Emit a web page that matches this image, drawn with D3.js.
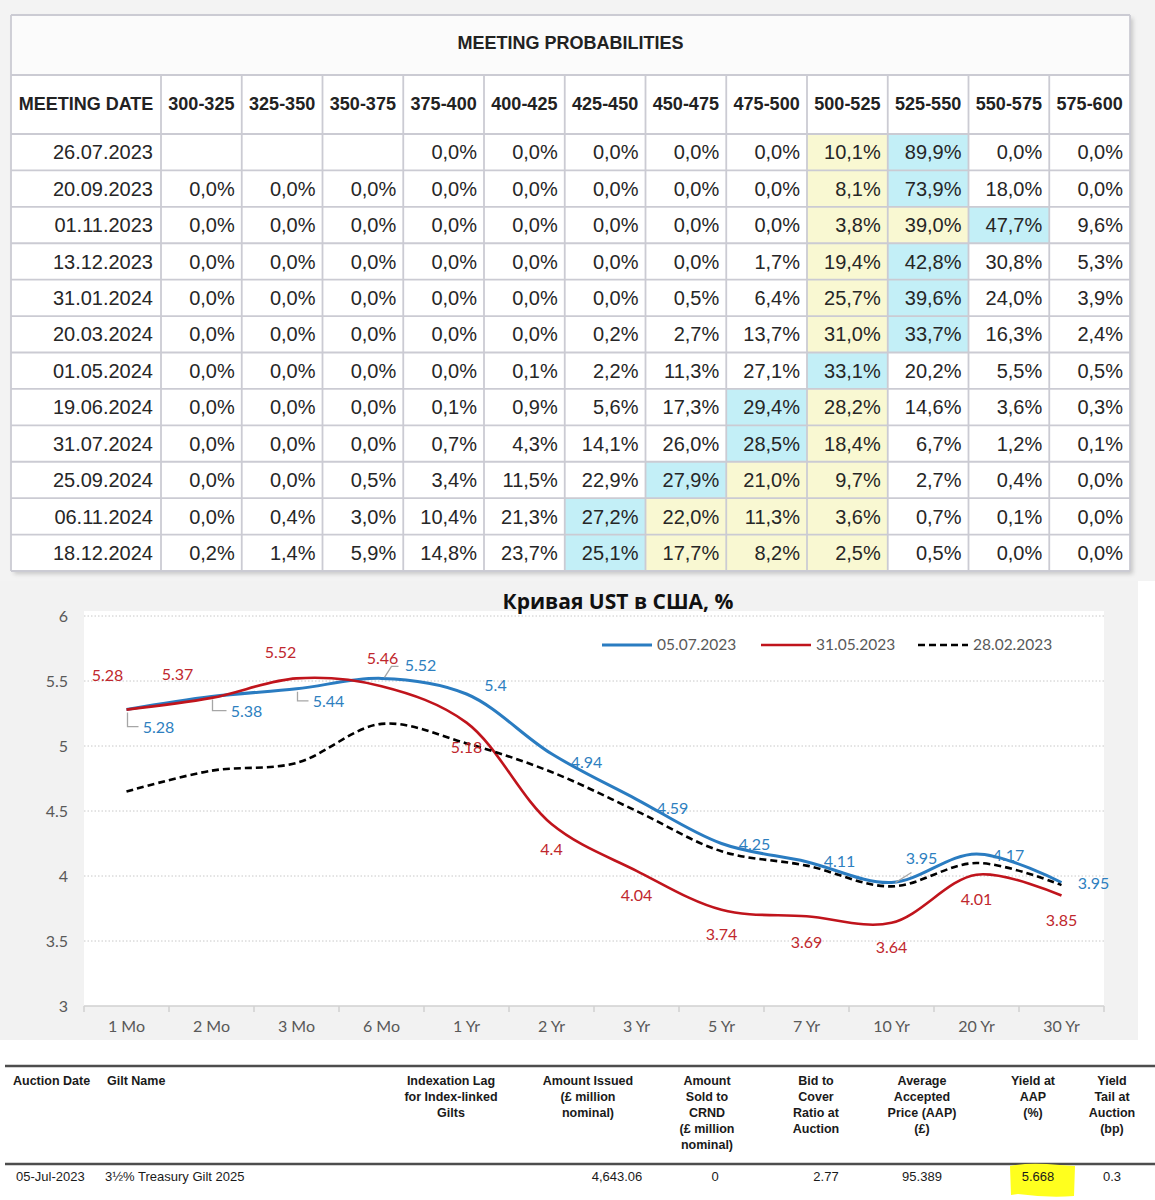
<!DOCTYPE html>
<html><head><meta charset="utf-8">
<script src="https://cdn.jsdelivr.net/npm/d3@7/dist/d3.min.js"></script>
<style>body{margin:0;background:#fff}svg{display:block}</style>
</head><body><svg id="c" width="1155" height="1200"></svg>
<script>
// ---------------- DATA ----------------
const tableTitle = "MEETING PROBABILITIES";
const dateHeader = "MEETING DATE";
const bins = ["300-325","325-350","350-375","375-400","400-425","425-450","450-475","475-500","500-525","525-550","550-575","575-600"];
const currentBin = "500-525";
const meetingDates = ["26.07.2023","20.09.2023","01.11.2023","13.12.2023","31.01.2024","20.03.2024","01.05.2024","19.06.2024","31.07.2024","25.09.2024","06.11.2024","18.12.2024"];
const probs = [
  [null,null,null,0.0,0.0,0.0,0.0,0.0,10.1,89.9,0.0,0.0],
  [0.0,0.0,0.0,0.0,0.0,0.0,0.0,0.0,8.1,73.9,18.0,0.0],
  [0.0,0.0,0.0,0.0,0.0,0.0,0.0,0.0,3.8,39.0,47.7,9.6],
  [0.0,0.0,0.0,0.0,0.0,0.0,0.0,1.7,19.4,42.8,30.8,5.3],
  [0.0,0.0,0.0,0.0,0.0,0.0,0.5,6.4,25.7,39.6,24.0,3.9],
  [0.0,0.0,0.0,0.0,0.0,0.2,2.7,13.7,31.0,33.7,16.3,2.4],
  [0.0,0.0,0.0,0.0,0.1,2.2,11.3,27.1,33.1,20.2,5.5,0.5],
  [0.0,0.0,0.0,0.1,0.9,5.6,17.3,29.4,28.2,14.6,3.6,0.3],
  [0.0,0.0,0.0,0.7,4.3,14.1,26.0,28.5,18.4,6.7,1.2,0.1],
  [0.0,0.0,0.5,3.4,11.5,22.9,27.9,21.0,9.7,2.7,0.4,0.0],
  [0.0,0.4,3.0,10.4,21.3,27.2,22.0,11.3,3.6,0.7,0.1,0.0],
  [0.2,1.4,5.9,14.8,23.7,25.1,17.7,8.2,2.5,0.5,0.0,0.0]
];

const chartTitle = "Кривая UST в США, %";
const tenors = ["1 Mo","2 Mo","3 Mo","6 Mo","1 Yr","2 Yr","3 Yr","5 Yr","7 Yr","10 Yr","20 Yr","30 Yr"];
const seriesNames = ["05.07.2023","31.05.2023","28.02.2023"];
const ust20230705 = [5.28,5.38,5.44,5.52,5.40,4.94,4.59,4.25,4.11,3.95,4.17,3.95];
const ust20230531 = [5.28,5.37,5.52,5.46,5.18,4.40,4.04,3.74,3.69,3.64,4.01,3.85];
const ust20230228 = [4.65,4.81,4.87,5.17,5.02,4.80,4.50,4.19,4.08,3.92,4.10,3.93];
const yTicks = [3,3.5,4,4.5,5,5.5,6];

const auctionHeaders = [
  ["Auction Date"],["Gilt Name"],["Indexation Lag","for Index-linked","Gilts"],
  ["Amount Issued","(£ million","nominal)"],["Amount","Sold to","CRND","(£ million","nominal)"],
  ["Bid to","Cover","Ratio at","Auction"],["Average","Accepted","Price (AAP)","(£)"],
  ["Yield at","AAP","(%)"],["Yield","Tail at","Auction","(bp)"]
];
const auctionRow = ["05-Jul-2023","3½% Treasury Gilt 2025","","4,643.06","0","2.77","95.389","5.668","0.3"];
const highlightedColumn = 7;

// ---------------- LAYOUT / STYLE ----------------
const svg = d3.select("#c");
const F_ARIAL = "'Liberation Sans', Arial, sans-serif";
const F_CAL = "Lato, 'Open Sans', sans-serif";
const F_TITLE = "'Open Sans', 'Noto Sans', sans-serif";

// backgrounds
svg.append("rect").attr("x",0).attr("y",0).attr("width",1155).attr("height",581).attr("fill","#f3f3f3");
svg.append("rect").attr("x",0).attr("y",581).attr("width",1138).attr("height",459).attr("fill","#f2f2f2");

// ---------------- TABLE ----------------
const T = {x0:11, x1:1130, yTop:15, yHead:75, yBody:134, yEnd:571, dateRight:161};
const colX = d3.scaleBand().domain(bins).range([T.dateRight, T.x1]);
const rowY = d3.scaleBand().domain(meetingDates).range([T.yBody, T.yEnd]);
const defs = svg.append("defs");
const f = defs.append("filter").attr("id","sh").attr("x","-5%").attr("y","-5%").attr("width","110%").attr("height","110%");
f.append("feDropShadow").attr("dx",3).attr("dy",3).attr("stdDeviation",2).attr("flood-color","#000").attr("flood-opacity",0.18);

const tg = svg.append("g");
tg.append("rect").attr("x",T.x0).attr("y",T.yTop).attr("width",T.x1-T.x0).attr("height",T.yEnd-T.yTop)
  .attr("fill","#fff").attr("filter","url(#sh)");
tg.append("rect").attr("x",T.x0).attr("y",T.yTop).attr("width",T.x1-T.x0).attr("height",T.yHead-T.yTop).attr("fill","#fbfbfb");

const curIdx = bins.indexOf(currentBin);
function cellFill(row, j){
  let maxIdx = 0;
  row.forEach((v,k)=>{ if(v!=null && v>row[maxIdx]) maxIdx=k; });
  if (j===maxIdx) return "#c3eff7";
  const lo = Math.min(maxIdx,curIdx), hi = Math.max(maxIdx,curIdx);
  if (j>=lo && j<=hi) return "#f9f8d2";
  return "#fff";
}
meetingDates.forEach((d,i)=>{
  const row = probs[i];
  const g = tg.append("g");
  g.selectAll("rect").data(bins).join("rect")
    .attr("x",b=>colX(b)).attr("y",rowY(d)).attr("width",colX.bandwidth()).attr("height",rowY.bandwidth())
    .attr("fill",(b,j)=>cellFill(row,j));
  g.selectAll("text").data(bins).join("text")
    .attr("x",b=>colX(b)+colX.bandwidth()-7).attr("y",rowY(d)+rowY.bandwidth()/2).attr("dy","0.36em")
    .attr("text-anchor","end").attr("font-family",F_ARIAL).attr("font-size",20).attr("fill","#262626")
    .text((b,j)=>row[j]==null?"":row[j].toFixed(1).replace(".",",")+"%");
  g.append("text").attr("x",T.dateRight-8).attr("y",rowY(d)+rowY.bandwidth()/2).attr("dy","0.36em")
    .attr("text-anchor","end").attr("font-family",F_ARIAL).attr("font-size",20).attr("fill","#262626").text(d);
});
// grid
const gridC = "#cbcbd3";
const hLines = [T.yTop, T.yHead].concat(meetingDates.map(d=>rowY(d))).concat([T.yEnd]);
tg.selectAll("line.h").data(hLines).join("line").attr("class","h")
  .attr("x1",T.x0).attr("x2",T.x1).attr("y1",d=>d).attr("y2",d=>d).attr("stroke",gridC).attr("stroke-width",1.8);
const vLines = [T.x0].concat(bins.map(b=>colX(b))).concat([T.x1]);
tg.selectAll("line.v").data(vLines).join("line").attr("class","v")
  .attr("x1",d=>d).attr("x2",d=>d).attr("y1",(d,i)=>(i===0||i===vLines.length-1)?T.yTop:T.yHead).attr("y2",T.yEnd)
  .attr("stroke",gridC).attr("stroke-width",1.8);
// headers
tg.append("text").attr("x",(T.x0+T.x1)/2).attr("y",(T.yTop+T.yHead)/2-2).attr("dy","0.36em").attr("text-anchor","middle")
  .attr("font-family",F_ARIAL).attr("font-weight","bold").attr("font-size",18).attr("fill","#222").text(tableTitle);
tg.append("text").attr("x",(T.x0+T.dateRight)/2).attr("y",(T.yHead+T.yBody)/2-1).attr("dy","0.36em").attr("text-anchor","middle")
  .attr("font-family",F_ARIAL).attr("font-weight","bold").attr("font-size",18).attr("fill","#222").text(dateHeader);
tg.selectAll("text.bh").data(bins).join("text").attr("class","bh")
  .attr("x",b=>colX(b)+colX.bandwidth()/2).attr("y",(T.yHead+T.yBody)/2-1).attr("dy","0.36em").attr("text-anchor","middle")
  .attr("font-family",F_ARIAL).attr("font-weight","bold").attr("font-size",18).attr("fill","#222").text(b=>b);

// ---------------- CHART ----------------
const C = {left:84, right:1104, top:616, bottom:1006};
const x = d3.scaleBand().domain(tenors).range([C.left, C.right]);
const y = d3.scaleLinear().domain([3,6]).range([C.bottom, C.top]);
const cg = svg.append("g");
cg.append("rect").attr("x",C.left).attr("y",C.top-5).attr("width",C.right-C.left).attr("height",C.bottom-C.top+5).attr("fill","#fff");
cg.selectAll("line.grid").data(yTicks.filter(t=>t>3)).join("line").attr("class","grid")
  .attr("x1",C.left).attr("x2",C.right).attr("y1",d=>y(d)).attr("y2",d=>y(d))
  .attr("stroke","#c8c8c8").attr("stroke-width",1).attr("stroke-dasharray","1.5,2");
// y axis
const ya = cg.append("g").attr("transform",`translate(${C.left},0)`)
  .call(d3.axisLeft(y).tickValues(yTicks).tickSize(0).tickPadding(16).tickFormat(d3.format("")));
ya.select(".domain").remove();
ya.selectAll("text").attr("font-family",F_CAL).attr("font-size",16).attr("fill","#595959");
// x axis
const xa = cg.append("g").attr("transform",`translate(0,${C.bottom})`)
  .call(d3.axisBottom(x).tickSize(0).tickPadding(15));
xa.select(".domain").remove();
xa.selectAll("text").attr("font-family",F_CAL).attr("font-size",16).attr("fill","#595959");
cg.append("line").attr("x1",C.left).attr("x2",C.right).attr("y1",C.bottom).attr("y2",C.bottom).attr("stroke","#d0d0d0").attr("stroke-width",1.5);
const bounds = tenors.map(t=>x(t)).concat([C.right]);
cg.selectAll("line.xt").data(bounds).join("line").attr("class","xt")
  .attr("x1",d=>d).attr("x2",d=>d).attr("y1",C.bottom).attr("y2",C.bottom+6).attr("stroke","#d0d0d0").attr("stroke-width",1.5);
// title
cg.append("text").attr("x",618).attr("y",609).attr("text-anchor","middle").attr("font-family",F_TITLE)
  .attr("font-weight","bold").attr("font-size",21).attr("fill","#111").text(chartTitle);

const cx = i => x(tenors[i]) + x.bandwidth()/2;
const line = d3.line().x((d,i)=>cx(i)).y(d=>y(d)).curve(d3.curveCatmullRom.alpha(0.5));
const series = [
  {name:seriesNames[0], values:ust20230705, color:"#2a7cc1", width:3, dash:null},
  {name:seriesNames[1], values:ust20230531, color:"#c0141c", width:2.6, dash:null},
  {name:seriesNames[2], values:ust20230228, color:"#000", width:2.6, dash:"7,4"}
];
series.forEach(s=>{
  cg.append("path").attr("d",line(s.values)).attr("fill","none").attr("stroke",s.color)
    .attr("stroke-width",s.width).attr("stroke-dasharray",s.dash).attr("stroke-linecap","butt");
});
// label offsets (layout only)
const blueLabelOffsets = [[32,18],[35,15],[32,13],[39,-13],[29,-9],[35,9],[36,9],[33,1],[33,0],[30,-24],[32,1],[32,1]];
const redLabelOffsets = [[-19,-34],[-34,-24],[-16,-26],[1,-28],[0,25],[0,25],[0,25],[0,25],[0,26],[0,25],[0,25],[0,25]];
// leader lines for blue labels
const lead = "#a6a6a6";
function leader(pts){ cg.append("path").attr("d",d3.line()(pts)).attr("fill","none").attr("stroke",lead).attr("stroke-width",1.3); }
[[0],[1],[2]].forEach(([i])=>{
  const px = cx(i)+1, py = y(ust20230705[i])+3, ly = py-3+blueLabelOffsets[i][1]-1, lx = cx(i)+blueLabelOffsets[i][0]-20;
  leader([[px,py],[px,ly],[lx,ly]]);
});
leader([[cx(3)+3,y(ust20230705[3])-1],[cx(3)+10,y(ust20230705[3])-12],[cx(3)+17,y(ust20230705[3])-12]]);
leader([[cx(9)+4,y(ust20230705[9])],[cx(9)+20,y(ust20230705[9])-10]]);

function labels(vals, offs, color){
  cg.append("g").selectAll("text").data(vals).join("text")
    .attr("x",(d,i)=>cx(i)+offs[i][0]).attr("y",(d,i)=>y(d)+offs[i][1]).attr("dy","0.35em")
    .attr("text-anchor","middle").attr("font-family",F_CAL).attr("font-size",16).attr("fill",color)
    .text(d=>d3.format("")(+d.toFixed(2)));
}
labels(ust20230705, blueLabelOffsets, "#2e7fbf");
labels(ust20230531, redLabelOffsets, "#c0272d");

// legend
const legendX = [602, 761, 918];
const lgd = cg.append("g");
series.forEach((s,i)=>{
  lgd.append("line").attr("x1",legendX[i]).attr("x2",legendX[i]+50).attr("y1",645).attr("y2",645)
    .attr("stroke",s.color).attr("stroke-width",s.width).attr("stroke-dasharray",s.dash);
  lgd.append("text").attr("x",legendX[i]+55).attr("y",645).attr("dy","0.35em").attr("font-family",F_CAL)
    .attr("font-size",15.5).attr("fill","#595959").text(s.name);
});

// ---------------- AUCTION TABLE ----------------
const A = {lineTop:1066, lineBot:1164, headY:1085, lh:16, rowY:1181};
const headPos = [[13,"start"],[107,"start"],[451,"middle"],[588,"middle"],[707,"middle"],[816,"middle"],[922,"middle"],[1033,"middle"],[1112,"middle"]];
const rowPos = [[16,"start"],[105,"start"],[451,"middle"],[617,"middle"],[715,"middle"],[826,"middle"],[922,"middle"],[1038,"middle"],[1112,"middle"]];
const ag = svg.append("g");
[A.lineTop, A.lineBot].forEach(yy=>{
  ag.append("line").attr("x1",5).attr("x2",1155).attr("y1",yy).attr("y2",yy).attr("stroke","#4d4d4d").attr("stroke-width",2.6);
});
// highlighter behind yield
const hx = rowPos[highlightedColumn][0];
ag.append("path").attr("fill","#ffff1e").attr("d",
  `M${hx-28},${A.rowY-15} Q${hx-10},${A.rowY-19} ${hx+22},${A.rowY-16} L${hx+37},${A.rowY-15} L${hx+36},${A.rowY+15} Q${hx+10},${A.rowY+17} ${hx-20},${A.rowY+13} L${hx-27},${A.rowY+14} Z`);
auctionHeaders.forEach((lines,i)=>{
  const t = ag.append("text").attr("x",headPos[i][0]).attr("y",A.headY).attr("text-anchor",headPos[i][1])
    .attr("font-family",F_ARIAL).attr("font-weight","bold").attr("font-size",12.5).attr("fill","#1a1a1a");
  lines.forEach((ln,k)=>t.append("tspan").attr("x",headPos[i][0]).attr("y",A.headY+k*A.lh).text(ln));
});
auctionRow.forEach((v,i)=>{
  if(!v) return;
  ag.append("text").attr("x",rowPos[i][0]).attr("y",A.rowY).attr("text-anchor",rowPos[i][1])
    .attr("font-family",F_ARIAL).attr("font-size",13).attr("fill","#1a1a1a").text(v);
});
</script></body></html>
